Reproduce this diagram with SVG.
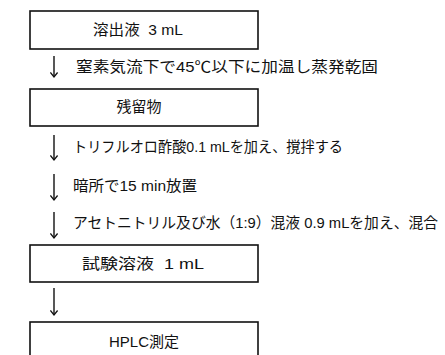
<svg xmlns="http://www.w3.org/2000/svg" width="445" height="355" viewBox="0 0 445 355">
<defs>
<style>
.box{fill:#fff;stroke:#111;stroke-width:1.6}
.t{font-family:"Liberation Sans","Noto Sans CJK JP",sans-serif;font-size:15px;fill:#111;white-space:pre}
.c{text-anchor:middle}
.ln{stroke:#111;stroke-width:1.4;fill:none}
</style>
<marker id="ah" viewBox="0 0 10 10" refX="9" refY="5" markerWidth="9" markerHeight="9" orient="auto" markerUnits="userSpaceOnUse">
<path d="M4,1 L9,5 L4,9" fill="none" stroke="#111" stroke-width="1.4"/>
</marker>
</defs>
<rect width="445" height="355" fill="#fff"/>
<g id="node1"><rect class="box" x="30" y="11" width="228" height="38"/><text class="t c" x="138" y="35" textLength="90" lengthAdjust="spacingAndGlyphs">溶出液  3 mL</text></g>
<g id="node2"><rect class="box" x="30" y="89" width="228" height="37"/><text class="t c" x="139" y="112">残留物</text></g>
<g id="node3"><rect class="box" x="30" y="245" width="228" height="37"/><text class="t c" x="143" y="269" textLength="122" lengthAdjust="spacingAndGlyphs">試験溶液  1 mL</text></g>
<g id="node4"><rect class="box" x="30" y="322" width="228" height="40"/><text class="t c" x="144" y="347">HPLC測定</text></g>
<g id="connectors">
<line class="ln" x1="54" y1="56" x2="54" y2="77" marker-end="url(#ah)"/>
<line class="ln" x1="54" y1="135" x2="54" y2="160" marker-end="url(#ah)"/>
<line class="ln" x1="54" y1="174" x2="54" y2="200" marker-end="url(#ah)"/>
<line class="ln" x1="54" y1="212" x2="54" y2="238" marker-end="url(#ah)"/>
<line class="ln" x1="54" y1="288" x2="54" y2="315" marker-end="url(#ah)"/>
</g>
<g id="labels">
<text class="t" x="76" y="72" textLength="302" lengthAdjust="spacingAndGlyphs">窒素気流下で45℃以下に加温し蒸発乾固</text>
<text class="t" x="73" y="152" textLength="270" lengthAdjust="spacingAndGlyphs">トリフルオロ酢酸0.1 mLを加え、撹拌する</text>
<text class="t" x="73" y="191" textLength="124" lengthAdjust="spacingAndGlyphs">暗所で15 min放置</text>
<text class="t" x="73" y="228" textLength="365" lengthAdjust="spacingAndGlyphs">アセトニトリル及び水（1:9）混液 0.9 mLを加え、混合</text>
</g>
</svg>
